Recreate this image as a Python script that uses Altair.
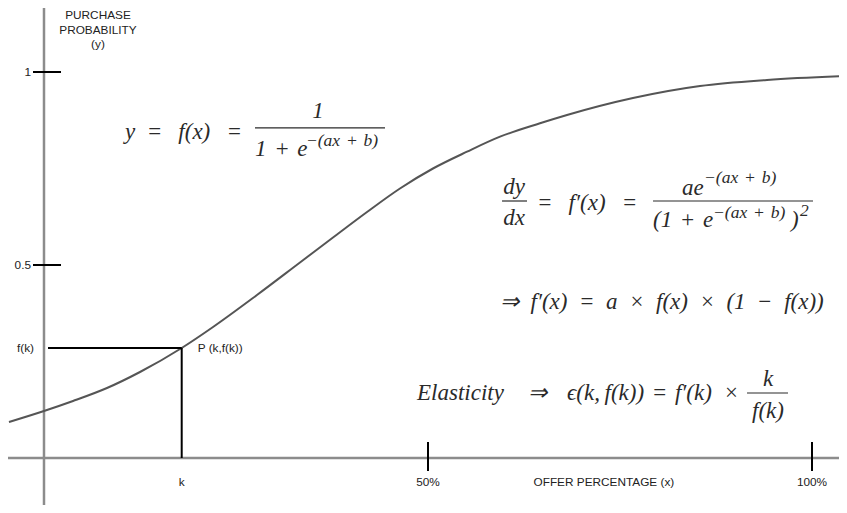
import altair as alt
import pandas as pd

# ---- data ----
offer_pct = [-4.56, 0.0, 3.78, 8.20, 12.50, 17.93, 22.01, 27.73, 33.33, 37.63, 42.06,
             46.35, 50.65, 55.08, 59.38, 64.58, 68.10, 76.69, 85.42, 94.14, 104.56]
purchase_prob = [0.0933, 0.1218, 0.1477, 0.1813, 0.2228, 0.2850, 0.3394, 0.4223, 0.5065,
                 0.5712, 0.6373, 0.6982, 0.7500, 0.7935, 0.8324, 0.8671, 0.8886, 0.9326,
                 0.9637, 0.9793, 0.9896]

k_value = 17.93
fk_value = 0.285

y_tick_values = [0.5, 1.0]
y_tick_labels = ["0.5", "1"]
x_tick_values = [50, 100]
x_tick_labels = ["50%", "100%"]

y_title_lines = ["PURCHASE", "PROBABILITY", "(y)"]
x_title = "OFFER PERCENTAGE (x)"
point_label = "P (k,f(k))"

W, H = 831, 497
XS = alt.Scale(domain=[-4.6875, 103.516], nice=False, zero=False)
YS = alt.Scale(domain=[-0.12176, 1.16580], nice=False, zero=False)

SANS = "Liberation Sans"
SERIF = "Liberation Serif"
LABEL_SIZE = 11.8
LABEL_COLOR = "#222222"
EQ_COLOR = "#2a2a2a"
EQ_SIZE = 23
SUP_SIZE = 17.5
SP = "\u2002"   # en space
TH = "\u2009"   # thin space
MS = "\u2004"   # three-per-em space
EXPO = f"\u2212(ax{MS}+{MS}b)"


def X(field):
    return alt.X(field, type="quantitative", scale=XS, axis=None)


def Y(field):
    return alt.Y(field, type="quantitative", scale=YS, axis=None)


curve_df = pd.DataFrame({"x": offer_pct, "y": purchase_prob})
kdf = pd.DataFrame({"k": [k_value], "fk": [fk_value], "zero": [0.0]})
ytick_df = pd.DataFrame({"v": y_tick_values, "label": y_tick_labels, "zero": 0.0})
xtick_df = pd.DataFrame({"v": x_tick_values, "label": x_tick_labels, "zero": 0.0})

# axis lines
x_axis_line = alt.Chart(kdf).mark_rule(color="#8c8c8c", strokeWidth=2.5).encode(
    x=alt.value(0), x2=alt.value(W), y=Y("zero"))
y_axis_line = alt.Chart(kdf).mark_rule(color="#8c8c8c", strokeWidth=2.5).encode(
    x=X("zero"), y=alt.value(0), y2=alt.value(H))

# tick marks
y_ticks = alt.Chart(ytick_df).mark_rule(color="black", strokeWidth=2, xOffset=-11, x2Offset=17).encode(
    x=X("zero"), x2="zero:Q", y=Y("v"))
x_ticks = alt.Chart(xtick_df).mark_rule(color="black", strokeWidth=2, yOffset=-16, y2Offset=13).encode(
    x=X("v"), y=Y("zero"), y2="zero:Q")

# guide lines to P
h_guide = alt.Chart(kdf).mark_rule(color="black", strokeWidth=2, xOffset=4).encode(
    x=X("zero"), x2="k:Q", y=Y("fk"))
v_guide = alt.Chart(kdf).mark_rule(color="black", strokeWidth=2).encode(
    x=X("k"), y=Y("zero"), y2="fk:Q")

# curve
curve = alt.Chart(curve_df).mark_line(color="#555555", strokeWidth=2, interpolate="monotone", clip=True).encode(
    x=X("x"), y=Y("y"))


def sans_text(**kw):
    return dict(font=SANS, fontSize=LABEL_SIZE, color=LABEL_COLOR, baseline="middle", **kw)


y_tick_text = alt.Chart(ytick_df).mark_text(**sans_text(align="right", dx=-13)).encode(
    x=X("zero"), y=Y("v"), text="label:N")
fk_text = alt.Chart(kdf).mark_text(**sans_text(align="right", dx=-10)).encode(
    x=X("zero"), y=Y("fk"), text=alt.value("f(k)"))
x_tick_text = alt.Chart(xtick_df).mark_text(**sans_text(align="center", dy=24)).encode(
    x=X("v"), y=Y("zero"), text="label:N")
k_text = alt.Chart(kdf).mark_text(**sans_text(align="center", dy=24)).encode(
    x=X("k"), y=Y("zero"), text=alt.value("k"))
x_title_df = pd.DataFrame({"t": [x_title], "x": [72.9], "zero": [0.0]})
x_title_text = alt.Chart(x_title_df).mark_text(**sans_text(align="center", dy=24)).encode(
    x=X("x"), y=Y("zero"), text="t:N")
p_text = alt.Chart(kdf).mark_text(**sans_text(align="left", dx=16)).encode(
    x=X("k"), y=Y("fk"), text=alt.value(point_label))
y_title_df = pd.DataFrame({"t": y_title_lines, "x": 7.03, "y": [1.1477, 1.1088, 1.0725]})
y_title_text = alt.Chart(y_title_df).mark_text(**sans_text(align="center")).encode(
    x=X("x"), y=Y("y"), text="t:N")

# formulas (annotation placements in data units)
eq_left = [
    (f"y{SP}={SP}{TH}f(x){SP}{TH}=", 10.55, 0.8446),
    (f"1{MS}+{MS}e", 27.47, 0.8005),
    (f"={SP}{TH}f\u2032(x){SP}{TH}=", 64.19, 0.6606),
    ("ae", 83.07, 0.6995),
    (f"(1{MS}+{MS}e", 79.30, 0.6166),
    (")", 97.27, 0.6166),
    (f"\u21D2{SP}f\u2032(x){SP}={SP}a{SP}\u00D7{SP}f(x){SP}\u00D7{SP}(1{SP}\u2212{SP}f(x))", 59.38, 0.4041),
    ("Elasticity", 48.57, 0.1684),
    ("\u21D2", 63.02, 0.1684),
    (f"\u03F5(k,{TH}f(k)){MS}={MS}f\u2032(k){SP}\u00D7", 68.10, 0.1684),
]
eq_center = [
    ("1", 35.68, 0.899),
    ("dy", 61.2, 0.702),
    ("dx", 61.2, 0.6218),
    ("k", 94.27, 0.2047),
    ("f(k)", 94.27, 0.1218),
]
eq_sup = [
    (EXPO, 34.11, 0.8212),
    (EXPO, 85.94, 0.7254),
    (EXPO, 87.11, 0.6347),
    ("2", 98.44, 0.6399),
]
bars = [
    (27.47, 44.40, 0.855),
    (59.64, 62.89, 0.6658),
    (79.30, 100.13, 0.6658),
    (91.54, 96.88, 0.1684),
]


def eq_layer(items, align, size):
    df = pd.DataFrame(items, columns=["t", "x", "y"])
    return alt.Chart(df).mark_text(font=SERIF, fontStyle="italic", fontSize=size, color=EQ_COLOR,
                                   align=align, baseline="middle").encode(
        x=X("x"), y=Y("y"), text="t:N")


eq1 = eq_layer(eq_left, "left", EQ_SIZE)
eq2 = eq_layer(eq_center, "center", EQ_SIZE)
eq3 = eq_layer(eq_sup, "left", SUP_SIZE)
bar_df = pd.DataFrame(bars, columns=["x1", "x2", "y"])
eq_bars = alt.Chart(bar_df).mark_rule(color=EQ_COLOR, strokeWidth=1.2).encode(
    x=X("x1"), x2="x2:Q", y=Y("y"))

chart = alt.layer(
    x_axis_line, y_axis_line, curve, h_guide, v_guide, y_ticks, x_ticks,
    y_tick_text, fk_text, x_tick_text, k_text, x_title_text, p_text, y_title_text,
    eq1, eq2, eq3, eq_bars,
).properties(
    width=W, height=H, padding=0, autosize=alt.AutoSizeParams(type="none"),
    background="white",
).configure_view(strokeWidth=0)

chart.save("out.html", embed_options={"renderer": "svg", "actions": False})
